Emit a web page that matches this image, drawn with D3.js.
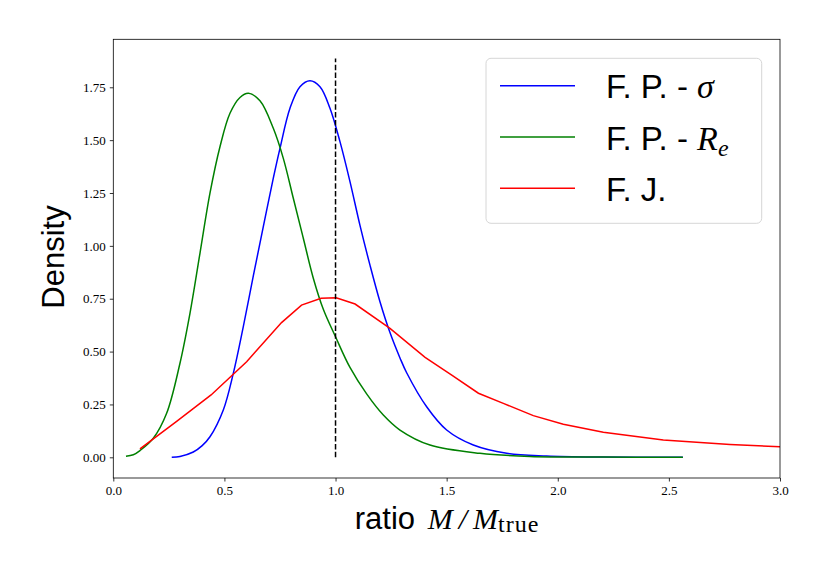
<!DOCTYPE html>
<html>
<head>
<meta charset="utf-8">
<script src="https://cdn.jsdelivr.net/npm/d3@7"></script>
<style>
  body { margin: 0; background: #fff; }
  .tick text { font-family: "Liberation Serif", "DejaVu Serif", serif; font-size: 13px; fill: #000; }
  .lbl { font-family: "Liberation Sans", "DejaVu Sans", sans-serif; fill: #000; }
  .math { font-family: "Liberation Serif", "DejaVu Serif", serif; font-style: italic; }
</style>
</head>
<body>
<div id="figure"></div>
<script>
// 数据
const sigmaX = [0.263, 0.30, 0.36, 0.40, 0.435, 0.495, 0.540, 0.585, 0.630, 0.675, 0.720, 0.750, 0.795, 0.840, 0.885, 0.930, 0.975, 1.020, 1.065, 1.110, 1.155, 1.200, 1.245, 1.290, 1.320, 1.410, 1.500, 1.620, 1.770, 1.950, 2.200, 2.563];
const sigmaY = [0.0, 0.004, 0.025, 0.055, 0.097, 0.224, 0.397, 0.618, 0.858, 1.091, 1.32, 1.461, 1.651, 1.753, 1.781, 1.753, 1.651, 1.493, 1.304, 1.097, 0.909, 0.736, 0.59, 0.47, 0.40, 0.239, 0.129, 0.058, 0.019, 0.006, 0.001, 0.0];

const reX = [0.057, 0.09, 0.12, 0.18, 0.240, 0.300, 0.345, 0.390, 0.435, 0.480, 0.525, 0.570, 0.608, 0.660, 0.720, 0.765, 0.810, 0.855, 0.900, 0.945, 1.000, 1.065, 1.140, 1.215, 1.290, 1.425, 1.650, 1.875, 2.200, 2.563];
const reY = [0.005, 0.012, 0.032, 0.090, 0.208, 0.445, 0.681, 0.965, 1.249, 1.469, 1.627, 1.702, 1.722, 1.686, 1.556, 1.414, 1.225, 1.036, 0.847, 0.70, 0.57, 0.425, 0.30, 0.200, 0.129, 0.058, 0.019, 0.004, 0.001, 0.0];

const fjX = [0.12, 0.285, 0.440, 0.600, 0.757, 0.847, 0.935, 1.003, 1.088, 1.245, 1.403, 1.523, 1.643, 1.755, 1.89, 2.025, 2.205, 2.475, 2.775, 3.0];
const fjY = [0.040, 0.170, 0.295, 0.452, 0.637, 0.720, 0.752, 0.755, 0.725, 0.61, 0.473, 0.389, 0.303, 0.255, 0.197, 0.156, 0.118, 0.082, 0.061, 0.050];

const xTicks = [0.0, 0.5, 1.0, 1.5, 2.0, 2.5, 3.0];
const yTicks = [0.00, 0.25, 0.50, 0.75, 1.00, 1.25, 1.50, 1.75];
const trueRatio = 1.0;
const dashTop = 1.886;

const legendNames = ['sigma', 're', 'fj'];

const width = 830, height = 581;
const margin = { left: 113.3, top: 39.3, right: 50, bottom: 103 };

const svg = d3.select('#figure').append('svg')
    .attr('width', width)
    .attr('height', height);

const x = d3.scaleLinear().domain([0, 3]).range([margin.left, width - margin.right]);
const y = d3.scaleLinear().domain([-0.0979, 1.977]).range([height - margin.bottom, margin.top]);

// 坐标轴
const xAxis = svg.append('g')
    .attr('transform', `translate(0,${height - margin.bottom})`)
    .call(d3.axisBottom(x).tickValues(xTicks).tickFormat(d3.format('.1f')).tickSize(3.5).tickPadding(4));
const yAxis = svg.append('g')
    .attr('transform', `translate(${margin.left},0)`)
    .call(d3.axisLeft(y).tickValues(yTicks).tickFormat(d3.format('.2f')).tickSize(3.5).tickPadding(4));
[xAxis, yAxis].forEach(a => {
    a.select('.domain').remove();
    a.selectAll('.tick line').attr('stroke', '#000').attr('stroke-width', 0.8);
});

// 曲线
const smooth = d3.line().x(d => x(d[0])).y(d => y(d[1])).curve(d3.curveCatmullRom.alpha(0.5));
const straight = d3.line().x(d => x(d[0])).y(d => y(d[1]));

svg.append('defs').append('clipPath').attr('id', 'plot-clip')
    .append('rect')
    .attr('x', margin.left).attr('y', margin.top)
    .attr('width', x(3) - margin.left).attr('height', y.range()[0] - margin.top);

const plot = svg.append('g').attr('clip-path', 'url(#plot-clip)');

plot.append('path')
    .datum(d3.zip(sigmaX, sigmaY))
    .attr('fill', 'none').attr('stroke', '#0000ff').attr('stroke-width', 1.5)
    .attr('d', smooth);

plot.append('path')
    .datum(d3.zip(reX, reY))
    .attr('fill', 'none').attr('stroke', '#008000').attr('stroke-width', 1.5)
    .attr('d', smooth);

plot.append('path')
    .datum(d3.zip(fjX, fjY))
    .attr('fill', 'none').attr('stroke', '#ff0000').attr('stroke-width', 1.5)
    .attr('d', straight);

// 真值虚线
plot.append('line')
    .attr('x1', x(trueRatio)).attr('x2', x(trueRatio))
    .attr('y1', y(0)).attr('y2', y(dashTop))
    .attr('stroke', '#000').attr('stroke-width', 1.5)
    .attr('stroke-dasharray', '5.5,2.4');

// 边框
svg.append('rect')
    .attr('x', margin.left).attr('y', margin.top)
    .attr('width', x(3) - margin.left).attr('height', y.range()[0] - margin.top)
    .attr('fill', 'none').attr('stroke', '#000').attr('stroke-width', 0.8);

// 轴标题
const xl = svg.append('text').attr('class', 'lbl')
    .attr('x', 447).attr('y', 529)
    .attr('text-anchor', 'middle')
    .style('font-size', '31px');
xl.append('tspan').text('ratio ');
xl.append('tspan').attr('class', 'math').style('font-size', '30px').attr('dx', 4).text('M');
xl.append('tspan').attr('class', 'math').style('font-size', '30px').attr('dx', 6).text('/');
xl.append('tspan').attr('class', 'math').style('font-size', '30px').attr('dx', 6).text('M');
xl.append('tspan').attr('class', 'math').style('font-style', 'normal').style('font-size', '24px').style('letter-spacing', '1px').attr('dy', 3).text('true');

svg.append('text').attr('class', 'lbl')
    .attr('transform', 'translate(64,257) rotate(-90)')
    .attr('text-anchor', 'middle')
    .style('font-size', '31px')
    .text('Density');

// 图例
const legend = svg.append('g').attr('class', 'legend');
legend.append('rect')
    .attr('x', 486).attr('y', 58.3).attr('width', 275.7).attr('height', 165)
    .attr('rx', 5)
    .attr('fill', '#fff').attr('fill-opacity', 0.8)
    .attr('stroke', '#d6d6d6').attr('stroke-width', 1);

const legendColors = ['#0000ff', '#008000', '#ff0000'];
const rows = legend.selectAll('g.row')
    .data(legendNames)
    .enter().append('g')
    .attr('class', 'row')
    .attr('transform', (d, i) => `translate(0,${85.7 + i * 51.3})`);

rows.append('line')
    .attr('x1', 500).attr('x2', 575)
    .attr('stroke', (d, i) => legendColors[i]).attr('stroke-width', 1.5);

const labels = rows.append('text').attr('class', 'lbl')
    .attr('x', 606).attr('y', 12.5)
    .style('font-size', '33px');

labels.each(function (d) {
    const t = d3.select(this);
    if (d === 'sigma') {
        t.append('tspan').text('F. P. - ');
        t.append('tspan').attr('class', 'math').style('font-size', '34px').text('σ');
    } else if (d === 're') {
        t.append('tspan').text('F. P. - ');
        t.append('tspan').attr('class', 'math').style('font-size', '34px').text('R');
        t.append('tspan').attr('class', 'math').style('font-size', '24px').attr('dy', 6).text('e');
    } else {
        t.append('tspan').text('F. J.');
    }
});
</script>
</body>
</html>
